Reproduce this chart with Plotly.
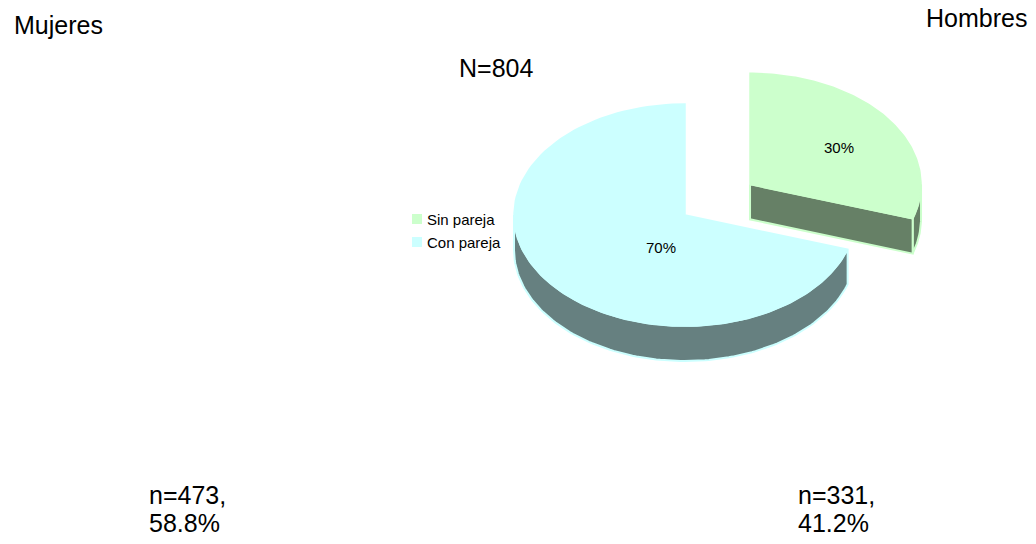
import numpy as np
import plotly.graph_objects as go

# ---- data ----
categories = ["Sin pareja", "Con pareja"]
shares = [30, 70]                  # percent of the sample
total_n = 804
groups = ["Mujeres", "Hombres"]
group_n = [473, 331]
group_pct = [58.8, 41.2]

# ---- styling ----
top_colors = ["#CCFFCC", "#CCFFFF"]
side_colors = ["#668066", "#668080"]
explode = [0.47, 0.0]
FONT = "Liberation Sans, Arial, sans-serif"

W, H = 1036, 544
cx, cy = 685, 215        # centre of the pie top face
rx, ry = 171, 111        # ellipse radii of the tilted disc
depth = 35               # thickness of the disc

# label anchors for the percentage texts
label_xy = [(839, 147), (661, 247)]


def rim(theta, ox, oy, dz=0.0):
    t = np.radians(theta)
    return ox + rx * np.sin(t), oy - ry * np.cos(t) + dz


def arc(a, b, ox, oy, dz=0.0, n=120):
    th = np.linspace(a, b, n)
    x, y = rim(th, ox, oy, dz)
    return list(x), list(y)


fig = go.Figure()


def poly(xs, ys, fill, line, lw=1.5):
    fig.add_trace(go.Scatter(
        x=xs + [xs[0]], y=ys + [ys[0]], mode="lines", fill="toself",
        fillcolor=fill, line=dict(color=line, width=lw),
        hoverinfo="skip", showlegend=False))


total = sum(shares)
starts = np.cumsum([0] + shares[:-1]) / total * 360.0
ends = np.cumsum(shares) / total * 360.0

slices = []
for i in range(len(shares)):
    s, e = starts[i], ends[i]
    mid = np.radians((s + e) / 2)
    ox = cx + explode[i] * rx * np.sin(mid)
    oy = cy - explode[i] * ry * np.cos(mid)
    slices.append((i, s, e, ox, oy))

# exploded slice sits behind, so draw it first
slices.sort(key=lambda t: -explode[t[0]])

for i, s, e, ox, oy in slices:
    # outer curved wall (front half only)
    a, b = max(s, 90.0), min(e, 270.0)
    if a < b:
        tx, ty = arc(a, b, ox, oy)
        bx, by = arc(b, a, ox, oy, depth)
        poly(tx + bx, ty + by, side_colors[i], top_colors[i], 2)
    # radial cut faces that face the viewer
    for ang, visible in ((e, 0 < e < 180), (s, 180 < s < 360)):
        if visible:
            px, py = rim(ang, ox, oy)
            poly([ox, float(px), float(px), ox],
                 [oy, float(py), float(py) + depth, oy + depth],
                 side_colors[i], top_colors[i], 2)
    # top face
    tx, ty = arc(s, e, ox, oy)
    poly([ox] + tx, [oy] + ty, top_colors[i], top_colors[i], 1.5)

# percentage labels
for i in range(len(shares)):
    fig.add_annotation(x=label_xy[i][0], y=label_xy[i][1], text=f"{shares[i]}%",
                       showarrow=False, font=dict(family=FONT, size=15, color="#000"))

# legend swatches and names
leg_x, leg_y = [417, 417], [219, 242]
fig.add_trace(go.Scatter(
    x=leg_x, y=leg_y, mode="markers",
    marker=dict(symbol="square", size=10, color=top_colors, line=dict(width=0)),
    hoverinfo="skip", showlegend=False))
for ly, name in zip(leg_y, categories):
    fig.add_annotation(x=leg_x[0] + 8, y=ly, text=name, showarrow=False,
                       xanchor="left",
                       font=dict(family=FONT, size=15, color="#000"))

# titles and group counts
big = dict(family=FONT, size=25, color="#000")
fig.add_annotation(x=496, y=68, text=f"N={total_n}", showarrow=False, font=big)
fig.add_annotation(x=12, y=25, text=groups[0], showarrow=False, font=big,
                   xanchor="left")
fig.add_annotation(x=1029, y=18, text=groups[1], showarrow=False, font=big,
                   xanchor="right")
for gx, n, p in zip([147, 796], group_n, group_pct):
    fig.add_annotation(x=gx, y=495, text=f"n={n},", showarrow=False, font=big,
                       xanchor="left")
    fig.add_annotation(x=gx, y=523, text=f"{p}%", showarrow=False, font=big,
                       xanchor="left")

fig.update_layout(
    width=W, height=H, margin=dict(l=0, r=0, t=0, b=0),
    paper_bgcolor="white", plot_bgcolor="white", showlegend=False,
    xaxis=dict(range=[0, W], visible=False, fixedrange=True),
    yaxis=dict(range=[H, 0], visible=False, fixedrange=True),
)

fig.write_html("out.html")
